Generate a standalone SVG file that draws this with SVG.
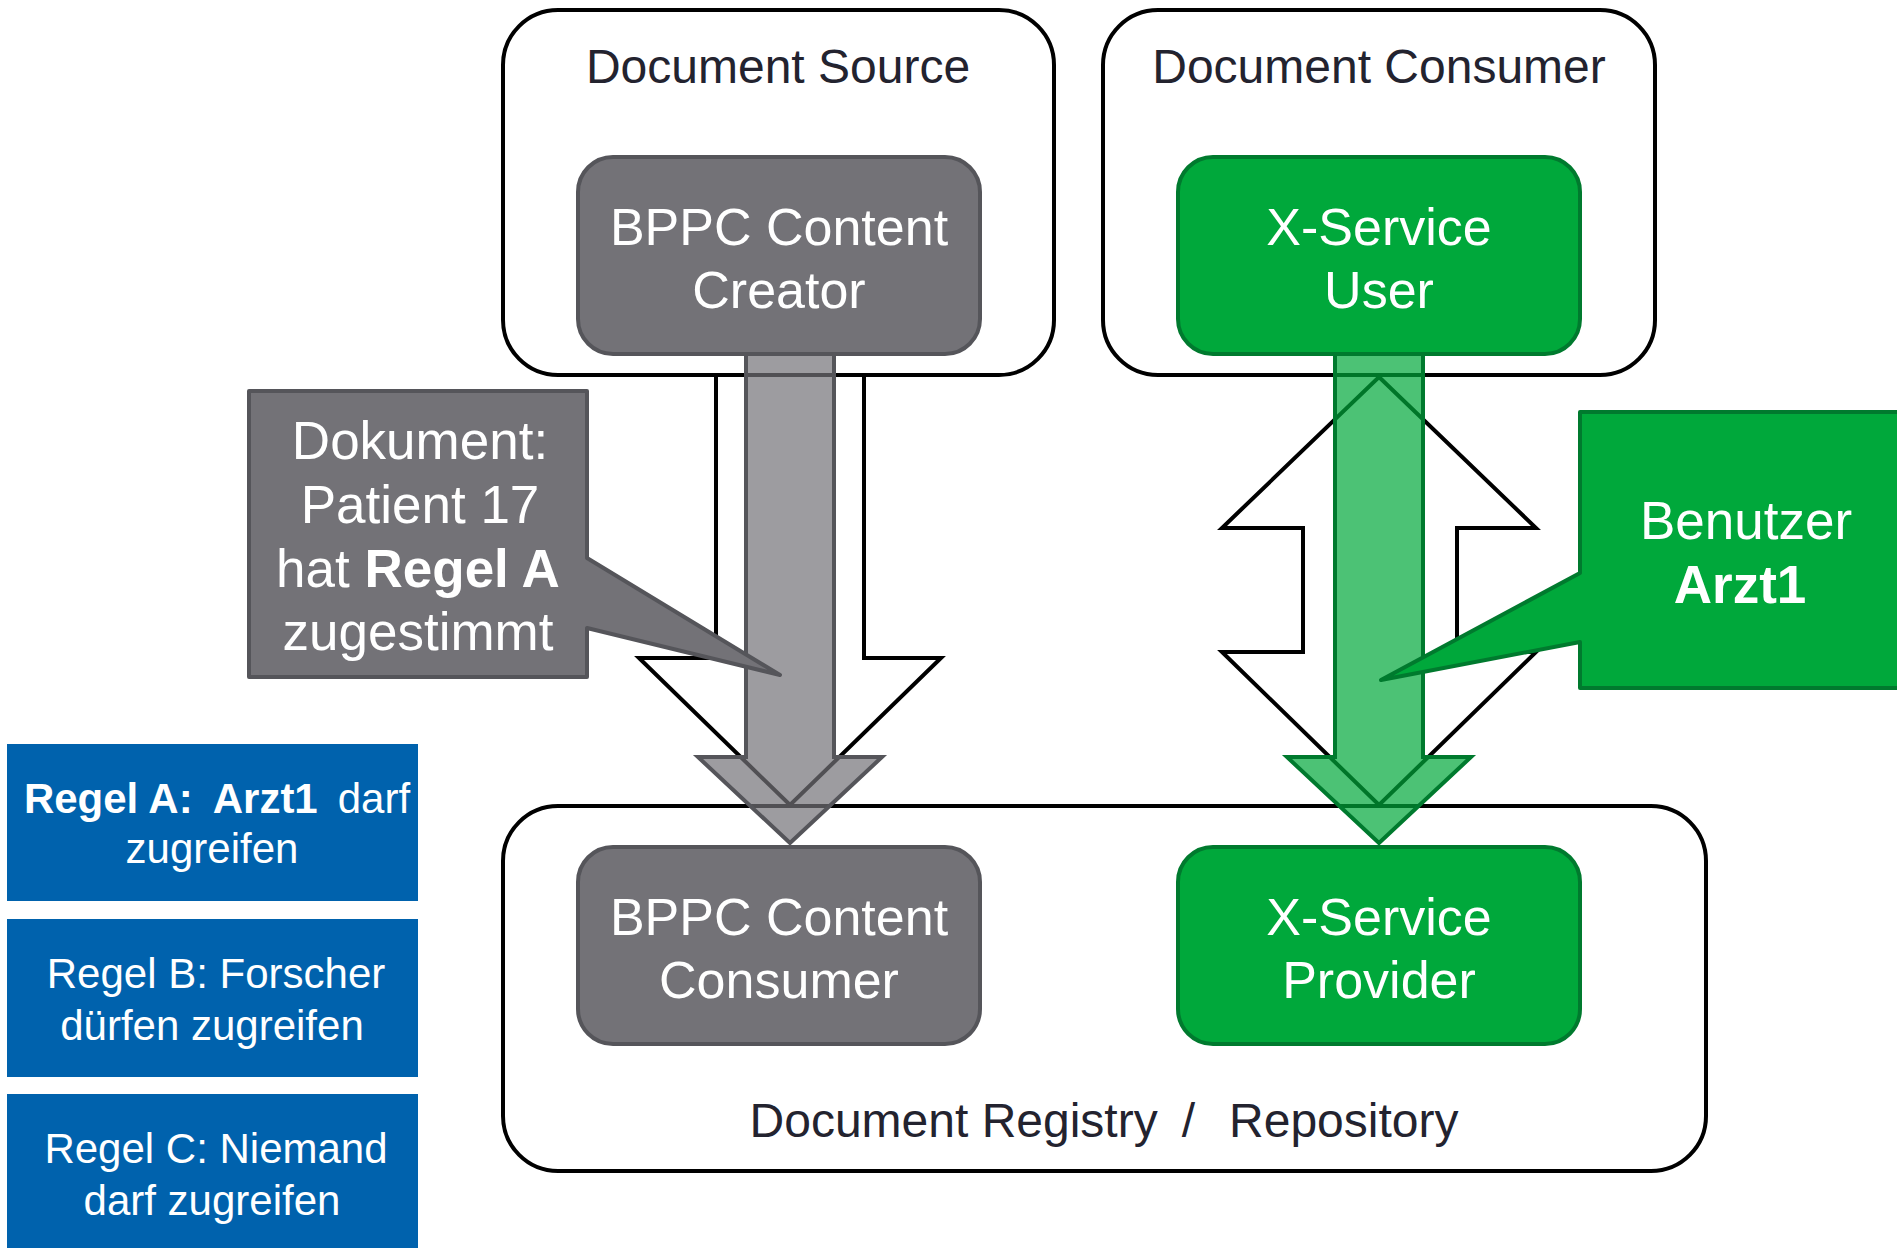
<svg xmlns="http://www.w3.org/2000/svg" width="1897" height="1248" viewBox="0 0 1897 1248">
<style>
  .cont{fill:#fff;stroke:#000;stroke-width:4}
  .clabel{font-family:"Liberation Sans",Arial,sans-serif;font-size:48px;fill:#23232f;text-anchor:middle}
  .gbox{fill:#737277;stroke:#55555a;stroke-width:4}
  .vbox{fill:#00a83b;stroke:#007a2e;stroke-width:4}
  .ntext{font-family:"Liberation Sans",Arial,sans-serif;font-size:52px;fill:#fff;text-anchor:middle}
  .ctext{font-family:"Liberation Sans",Arial,sans-serif;font-size:53px;fill:#fff;text-anchor:middle}
  .rtext{font-family:"Liberation Sans",Arial,sans-serif;font-size:42px;fill:#fff;text-anchor:middle}
  .b{font-weight:bold}
  .outline{fill:#fff;stroke:#000;stroke-width:4;stroke-linejoin:miter}
  .garrow{fill:#737277;fill-opacity:0.7;stroke:#55555a;stroke-width:4}
  .varrow{fill:#00a83b;fill-opacity:0.7;stroke:#007a2e;stroke-width:4}
  .blue{fill:#0062ad}
</style>

<g id="document-source">
  <rect class="cont" x="503" y="10" width="551" height="365" rx="55"/>
  <text class="clabel" x="778" y="83">Document Source</text>
</g>
<g id="document-consumer">
  <rect class="cont" x="1103" y="10" width="552" height="365" rx="55"/>
  <text class="clabel" x="1379" y="83">Document Consumer</text>
</g>
<g id="document-registry">
  <rect class="cont" x="503" y="806" width="1203" height="365" rx="55"/>
  <text class="clabel" x="1104" y="1137">Document Registry<tspan dx="24">/</tspan><tspan dx="34">Repository</tspan></text>
</g>

<g id="connectors">
  <polygon class="outline" points="716,375 864,375 864,658 941,658 790,805 639,658 716,658"/>
  <polygon class="outline" points="1379,377 1536,528 1457,528 1457,652 1536,652 1379,805 1222,652 1303,652 1303,528 1222,528"/>
  <polygon class="garrow" points="746,340 834,340 834,757 882,757 790,843 698,757 746,757"/>
  <polygon class="varrow" points="1335,340 1423,340 1423,757 1471,757 1379,843 1287,757 1335,757"/>
</g>

<g id="bppc-content-creator">
  <rect class="gbox" x="578" y="157" width="402" height="197" rx="35"/>
  <text class="ntext" x="779" y="245">BPPC Content</text>
  <text class="ntext" x="779" y="308">Creator</text>
</g>
<g id="x-service-user">
  <rect class="vbox" x="1178" y="157" width="402" height="197" rx="35"/>
  <text class="ntext" x="1379" y="245">X-Service</text>
  <text class="ntext" x="1379" y="308">User</text>
</g>
<g id="bppc-content-consumer">
  <rect class="gbox" x="578" y="847" width="402" height="197" rx="35"/>
  <text class="ntext" x="779" y="935">BPPC Content</text>
  <text class="ntext" x="779" y="998">Consumer</text>
</g>
<g id="x-service-provider">
  <rect class="vbox" x="1178" y="847" width="402" height="197" rx="35"/>
  <text class="ntext" x="1379" y="935">X-Service</text>
  <text class="ntext" x="1379" y="998">Provider</text>
</g>

<g id="callout-dokument">
  <polygon class="gbox" stroke-linejoin="round" points="249,391 587,391 587,558 780,675 587,628 587,677 249,677"/>
  <text class="ctext" x="420" y="459">Dokument:</text>
  <text class="ctext" x="420" y="523">Patient 17</text>
  <text class="ctext" x="418" y="587">hat <tspan class="b">Regel A</tspan></text>
  <text class="ctext" x="418" y="650">zugestimmt</text>
</g>
<g id="callout-benutzer">
  <polygon class="vbox" stroke-linejoin="round" points="1580,412 1912,412 1912,688 1580,688 1580,642 1381,680 1580,573"/>
  <text class="ctext" x="1746" y="539">Benutzer</text>
  <text class="ctext b" x="1740" y="603">Arzt1</text>
</g>

<g id="regel-a">
  <rect class="blue" x="7" y="744" width="411" height="157"/>
  <text class="rtext" x="217" y="813"><tspan class="b">Regel A:</tspan><tspan class="b" dx="20">Arzt1</tspan><tspan dx="20">darf</tspan></text>
  <text class="rtext" x="212" y="863">zugreifen</text>
</g>
<g id="regel-b">
  <rect class="blue" x="7" y="919" width="411" height="158"/>
  <text class="rtext" x="216" y="988">Regel B: Forscher</text>
  <text class="rtext" x="212" y="1040">dürfen zugreifen</text>
</g>
<g id="regel-c">
  <rect class="blue" x="7" y="1094" width="411" height="160"/>
  <text class="rtext" x="216" y="1163">Regel C: Niemand</text>
  <text class="rtext" x="212" y="1215">darf zugreifen</text>
</g>
</svg>
